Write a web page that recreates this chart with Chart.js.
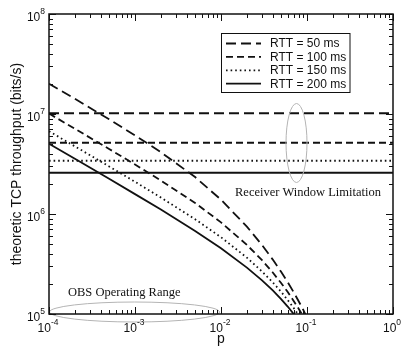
<!DOCTYPE html>
<html>
<head>
<meta charset="utf-8">
<title>Theoretic TCP throughput</title>
<script src="https://cdn.jsdelivr.net/npm/chart.js@4/dist/chart.umd.min.js"></script>
<style>
  html, body { margin: 0; padding: 0; background: #fff; }
  #wrap { width: 401px; height: 348px; }
</style>
</head>
<body>
<div id="wrap"><canvas id="tcp-chart" width="401" height="348"></canvas></div>
<script>
// loss probability p (x) and throughput in bits/s for each RTT
var lossRates = [1e-4, 2e-4, 5e-4, 1e-3, 2e-3, 5e-3, 1e-2, 2e-2, 3e-2, 4e-2, 5e-2, 6e-2, 7e-2, 8e-2, 9e-2, 1e-1];
var rtt50 = [2.01e7, 1.42e7, 8.85e6, 6.12e6, 4.15e6, 2.34e6, 1.39e6, 7.48e5, 4.89e5, 3.50e5, 2.64e5, 2.06e5, 1.65e5, 1.34e5, 1.11e5, 9.2e4];
var rtt100 = [1.01e7, 7.12e6, 4.47e6, 3.13e6, 2.16e6, 1.29e6, 8.25e5, 4.91e5, 3.45e5, 2.60e5, 2.04e5, 1.65e5, 1.35e5, 1.13e5, 9.5e4, 8.1e4];
var rtt150 = [6.73e6, 4.75e6, 2.99e6, 2.10e6, 1.46e6, 8.87e5, 5.86e5, 3.66e5, 2.66e5, 2.07e5, 1.67e5, 1.37e5, 1.15e5, 9.7e4, 8.3e4, 7.2e4];
var rtt200 = [5.05e6, 3.57e6, 2.25e6, 1.58e6, 1.11e6, 6.77e5, 4.55e5, 2.91e5, 2.17e5, 1.72e5, 1.41e5, 1.18e5, 1.0e5, 8.6e4, 7.4e4, 6.4e4];

// receiver window limitation (flat lines) for the same RTTs
var windowLimits = [1.02e7, 5.15e6, 3.41e6, 2.58e6];
var windowSpan = [1e-4, 1];

var seriesLabels = ['RTT = 50 ms', 'RTT = 100 ms', 'RTT = 150 ms', 'RTT = 200 ms'];
var xTickExps = [-4, -3, -2, -1, 0];
var yTickExps = [5, 6, 7, 8];

(function () {
  var canvas = document.getElementById('tcp-chart');
  var SANS = '"Liberation Sans", Arial, Helvetica, sans-serif';
  var SERIF = '"Liberation Serif", "Times New Roman", serif';
  var INK = '#111';
  var dashes = [[10, 5], [7, 4], [1.6, 3], []];
  var curves = [rtt50, rtt100, rtt150, rtt200];

  function points(ys) {
    return lossRates.map(function (p, i) { return { x: p, y: ys[i] }; });
  }

  var datasets = [];
  curves.forEach(function (ys, i) {
    datasets.push({
      label: seriesLabels[i],
      data: points(ys),
      borderColor: INK,
      borderWidth: 1.8,
      borderDash: dashes[i],
      pointRadius: 0,
      tension: 0,
      fill: false,
    });
  });
  windowLimits.forEach(function (w, i) {
    datasets.push({
      label: seriesLabels[i] + ' window',
      data: windowSpan.map(function (p) { return { x: p, y: w }; }),
      borderColor: INK,
      borderWidth: 2,
      borderDash: dashes[i],
      pointRadius: 0,
      fill: false,
    });
  });

  function logTicks(lo, hi) {
    var out = [];
    for (var e = lo; e < hi; e++) {
      for (var m = 1; m < 10; m++) {
        out.push({ v: m * Math.pow(10, e), major: m === 1 });
      }
    }
    out.push({ v: Math.pow(10, hi), major: true });
    return out;
  }

  function drawPower(ctx, exp, x, baseline, anchor) {
    ctx.font = '12px ' + SANS;
    var wb = ctx.measureText('10').width;
    ctx.font = '8.5px ' + SANS;
    var sup = String(exp);
    var ws = ctx.measureText(sup).width;
    var left = anchor === 'center' ? x - (wb + ws) / 2 : x - wb - ws;
    ctx.textAlign = 'left';
    ctx.textBaseline = 'alphabetic';
    ctx.font = '12px ' + SANS;
    ctx.fillText('10', left, baseline);
    ctx.font = '8.5px ' + SANS;
    ctx.fillText(sup, left + wb, baseline - 7);
  }

  var decorations = {
    id: 'decorations',
    afterDatasetsDraw: function (chart) {
      var ctx = chart.ctx;
      var a = chart.chartArea;
      var xs = chart.scales.x;
      var ys = chart.scales.y;
      ctx.save();

      // annotation ellipses
      ctx.strokeStyle = '#b4b4b4';
      ctx.lineWidth = 1;
      ctx.beginPath();
      var ex = xs.getPixelForValue(0.0755);
      var ey = ys.getPixelForValue(5.13e6);
      ctx.ellipse(ex, ey, 10.5, 39.5, 0, 0, Math.PI * 2);
      ctx.stroke();
      ctx.beginPath();
      var ox = xs.getPixelForValue(1e-3);
      ctx.ellipse(ox - 0.5, a.bottom - 2, 85, 10, 0, 0, Math.PI * 2);
      ctx.stroke();

      // frame
      ctx.strokeStyle = INK;
      ctx.lineWidth = 1.5;
      ctx.strokeRect(a.left, a.top, a.right - a.left, a.bottom - a.top);

      // inward ticks on all four sides
      ctx.lineWidth = 1;
      ctx.beginPath();
      logTicks(-4, 0).forEach(function (t) {
        var px = Math.round(xs.getPixelForValue(t.v)) + 0.5;
        var len = t.major ? 7 : 4;
        ctx.moveTo(px, a.bottom);
        ctx.lineTo(px, a.bottom - len);
        ctx.moveTo(px, a.top);
        ctx.lineTo(px, a.top + len);
      });
      logTicks(5, 8).forEach(function (t) {
        var py = Math.round(ys.getPixelForValue(t.v)) + 0.5;
        var len = t.major ? 7 : 4;
        ctx.moveTo(a.left, py);
        ctx.lineTo(a.left + len, py);
        ctx.moveTo(a.right, py);
        ctx.lineTo(a.right - len, py);
      });
      ctx.stroke();

      // tick labels
      ctx.fillStyle = INK;
      xTickExps.forEach(function (e) {
        drawPower(ctx, e, xs.getPixelForValue(Math.pow(10, e)) - 1, a.bottom + 18, 'center');
      });
      yTickExps.forEach(function (e) {
        drawPower(ctx, e, a.left - 4, ys.getPixelForValue(Math.pow(10, e)) + 7, 'right');
      });

      // axis titles
      ctx.font = '14px ' + SANS;
      ctx.textAlign = 'center';
      ctx.textBaseline = 'alphabetic';
      ctx.fillText('p', (a.left + a.right) / 2, 343);
      ctx.save();
      ctx.translate(20.5, (a.top + a.bottom) / 2);
      ctx.rotate(-Math.PI / 2);
      ctx.fillText('theoretic TCP throughput (bits/s)', 0, 0);
      ctx.restore();

      // free text annotations
      ctx.font = '12.5px ' + SERIF;
      ctx.textBaseline = 'middle';
      ctx.textAlign = 'left';
      ctx.fillText('Receiver Window Limitation', 235, 192.5);
      ctx.fillText('OBS Operating Range', 68, 293);

      // legend box
      var bx = 221.5, by = 33.5, bw = 128.5, bh = 59;
      ctx.fillStyle = '#fff';
      ctx.fillRect(bx, by, bw, bh);
      ctx.strokeStyle = INK;
      ctx.lineWidth = 1;
      ctx.strokeRect(bx, by, bw, bh);
      ctx.font = '12px ' + SANS;
      ctx.fillStyle = INK;
      seriesLabels.forEach(function (label, i) {
        var ry = 43.5 + i * 13.4;
        ctx.beginPath();
        ctx.setLineDash(dashes[i]);
        ctx.lineWidth = 1.8;
        ctx.moveTo(226, ry);
        ctx.lineTo(261, ry);
        ctx.stroke();
        ctx.setLineDash([]);
        ctx.fillText(label, 270, ry + 0.5);
      });

      ctx.restore();
    },
  };

  new Chart(canvas, {
    type: 'line',
    data: { datasets: datasets },
    options: {
      responsive: false,
      devicePixelRatio: 1,
      animation: false,
      layout: { padding: { top: 14, right: 8, left: 0, bottom: 0 } },
      plugins: { legend: { display: false }, tooltip: { enabled: false } },
      scales: {
        x: {
          type: 'logarithmic',
          min: 1e-4,
          max: 1,
          ticks: { display: false },
          grid: { display: false },
          border: { display: false },
          afterFit: function (s) { s.height = 34; },
        },
        y: {
          type: 'logarithmic',
          min: 1e5,
          max: 1e8,
          ticks: { display: false },
          grid: { display: false },
          border: { display: false },
          afterFit: function (s) { s.width = 49; },
        },
      },
    },
    plugins: [decorations],
  });
})();
</script>
</body>
</html>
